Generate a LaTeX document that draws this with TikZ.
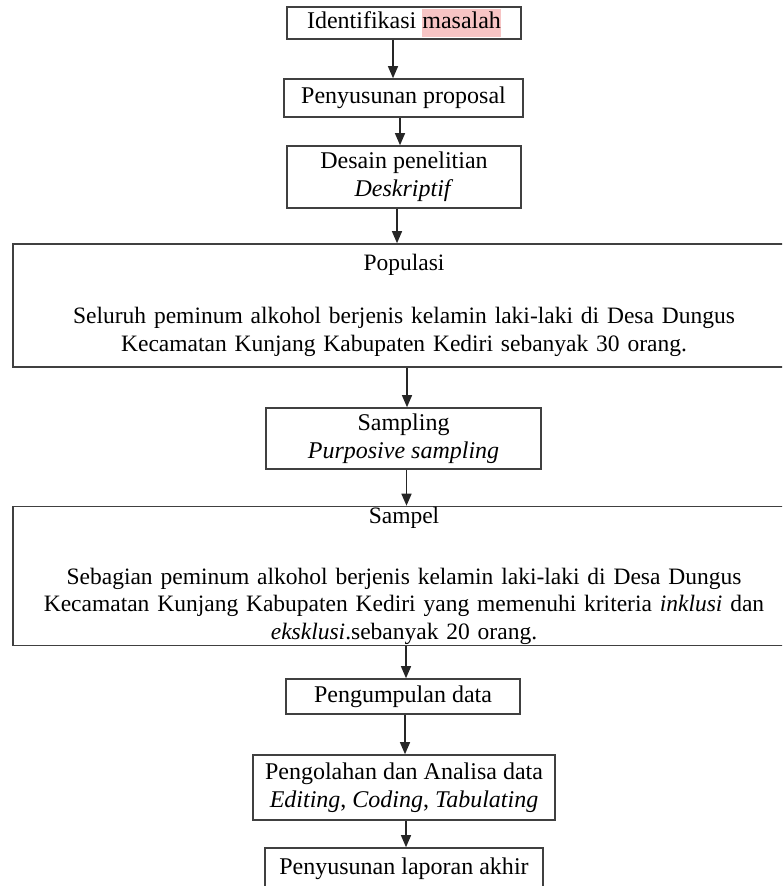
\documentclass[tikz,border=0pt]{standalone}
\usepackage{fontspec}
\setmainfont{Liberation Serif}
\usepackage{xcolor}
\usetikzlibrary{arrows.meta}
\definecolor{hlpink}{HTML}{F7C4C4}
\newcommand{\hlword}[1]{{\setlength{\fboxsep}{0pt}\colorbox{hlpink}{\strut #1}}}

\begin{document}
\begin{tikzpicture}[x=0.5pt, y=-0.5pt,
  every node/.style={rectangle, draw=black!75, line width=0.8pt, align=center,
    inner xsep=0pt, inner ysep=0pt, font=\fontsize{12pt}{13.8pt}\selectfont},
  wide/.style={minimum width=391pt, text width=380pt, font=\fontsize{11.75pt}{13.8pt}\selectfont},
  arr/.style={-{Triangle[length=6pt,width=5pt]}, line width=0.6pt, black!85}]
  \useasboundingbox (0,0) rectangle (782,886);
  \clip (0,0) rectangle (782,886);
  \node (idm) [minimum width=117pt, minimum height=16pt] at (404,23) {Identifikasi \hlword{masalah}};
  \node (pro) [minimum width=119.5pt, minimum height=19pt] at (403.5,98) {Penyusunan proposal};
  \node (des) [minimum width=117pt, minimum height=31pt] at (404,177) {Desain penelitian\\\textit{Deskriptif}};
  \node (pop) [wide, minimum height=61.5pt] at (404,305.5)
    {Populasi\\[12.7pt]Seluruh peminum alkohol berjenis kelamin laki-laki di Desa Dungus\\Kecamatan Kunjang Kabupaten Kediri sebanyak 30 orang.};
  \node (smp) [minimum width=137.5pt, minimum height=30.5pt] at (403.5,438.5) {Sampling\\\textit{Purposive sampling}};
  \node (spl) [wide, minimum height=69.5pt] at (404,576)
    {Sampel\\[16.5pt]Sebagian peminum alkohol berjenis kelamin laki-laki di Desa Dungus\\Kecamatan Kunjang Kabupaten Kediri yang memenuhi kriteria \textit{inklusi} dan\\\textit{eksklusi}.sebanyak 20 orang.};
  \node (kum) [minimum width=117pt, minimum height=17.5pt] at (403,696.5) {Pengumpulan data};
  \node (olh) [minimum width=151pt, minimum height=32.5pt] at (404,787.5) {Pengolahan dan Analisa data\\\textit{Editing}, \textit{Coding}, \textit{Tabulating}};
  \node (lap) [minimum width=139pt, minimum height=21pt] at (404,869) {Penyusunan laporan akhir};
  \draw[arr] ([xshift=-5.5pt]idm.south) -- ([xshift=-5.5pt]idm.south |- pro.north);
  \draw[arr] ([xshift=-1.75pt]pro.south) -- ([xshift=-1.75pt]pro.south |- des.north);
  \draw[arr] ([xshift=-3.5pt]des.south) -- ([xshift=-3.5pt]des.south |- pop.north);
  \draw[arr] ([xshift=1.5pt]pop.south) -- ([xshift=1.5pt]pop.south |- smp.north);
  \draw[arr, line width=0.8pt] ([xshift=1.5pt]smp.south) -- ([xshift=1.5pt]smp.south |- spl.north);
  \draw[arr] ([xshift=1pt]spl.south) -- ([xshift=1pt]spl.south |- kum.north);
  \draw[arr] ([xshift=1pt]kum.south) -- ([xshift=1pt]kum.south |- olh.north);
  \draw[arr] ([xshift=1pt]olh.south) -- ([xshift=1pt]olh.south |- lap.north);
\end{tikzpicture}
\end{document}
